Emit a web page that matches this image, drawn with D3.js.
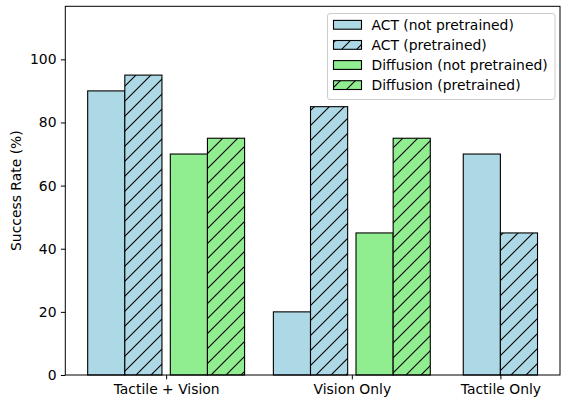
<!DOCTYPE html>
<html><head><meta charset="utf-8">
<script src="https://cdn.jsdelivr.net/npm/d3@7"></script>
<style>body{margin:0;background:#fff}svg{display:block}text{font-family:"DejaVu Sans",sans-serif}</style>
</head><body><svg id="c" width="569" height="406"></svg>
<script>
const categories = ["Tactile + Vision", "Vision Only", "Tactile Only"];
const categoryPositions = [0, 1, 1.8];
const seriesNames = ["ACT (not pretrained)", "ACT (pretrained)", "Diffusion (not pretrained)", "Diffusion (pretrained)"];
const actNotPretrained = [90, 20, 70];
const actPretrained = [95, 85, 45];
const diffNotPretrained = [70, 45, null];
const diffPretrained = [75, 75, null];
const yTicks = [0, 20, 40, 60, 80, 100];
const colors = ["#ADD8E6", "#ADD8E6", "#90EE90", "#90EE90"];
const hatched = [false, true, false, true];

const series = [actNotPretrained, actPretrained, diffNotPretrained, diffPretrained];
const W = 569, H = 406;
const FS = 13.9;
const m = {l: 65.3, r: 560, t: 6.3, b: 375};
const svg = d3.select("#c");
const x = d3.scaleLinear().domain([-0.543, 2.121]).range([m.l, m.r]);
const y = d3.scaleLinear().domain([0, 116.8]).range([m.b, m.t]);
const bw = 0.2, gap = 0.045;

const defs = svg.append("defs");
const s = 15;
["#ADD8E6", "#90EE90"].forEach((c, i) => {
  const p = defs.append("pattern").attr("id", "h" + i).attr("patternUnits", "userSpaceOnUse")
    .attr("width", s).attr("height", s).attr("y", H % s);
  p.append("rect").attr("width", s).attr("height", s).attr("fill", c);
  p.append("path").attr("d", `M0,${s} L${s},0 M${-s/2},${s/2} L${s/2},${-s/2} M${s/2},${s*1.5} L${s*1.5},${s/2}`)
    .attr("stroke", "#000").attr("stroke-width", 1.1);
});
const fillOf = i => hatched[i] ? `url(#h${colors[i] === "#ADD8E6" ? 0 : 1})` : colors[i];

function offsets(n) {
  if (n === 4) return [-(bw * 1.5 + gap / 2), -(bw / 2 + gap / 2), bw / 2 + gap / 2, bw * 1.5 + gap / 2];
  return [-bw / 2, bw / 2];
}
categories.forEach((cat, ci) => {
  const present = series.map((sr, si) => sr[ci] != null ? si : -1).filter(v => v >= 0);
  const off = offsets(present.length);
  present.forEach((si, k) => {
    const cx = categoryPositions[ci] + off[k];
    const v = series[si][ci];
    svg.append("rect")
      .attr("x", x(cx - bw / 2)).attr("width", x(cx + bw / 2) - x(cx - bw / 2))
      .attr("y", y(v)).attr("height", y(0) - y(v))
      .attr("fill", fillOf(si)).attr("stroke", "#000").attr("stroke-width", 1.1);
  });
});

const yAxis = svg.append("g").attr("transform", `translate(${m.l},0)`)
  .call(d3.axisLeft(y).tickValues(yTicks).tickSize(4.4).tickPadding(4.4));
const xAxis = svg.append("g").attr("transform", `translate(0,${m.b})`)
  .call(d3.axisBottom(x).tickValues(categoryPositions).tickFormat((d, i) => categories[i]).tickSize(4.4).tickPadding(4.4));
[yAxis, xAxis].forEach(g => {
  g.select(".domain").remove();
  g.selectAll("text").attr("font-size", FS).attr("fill", "#000").attr("font-family", "DejaVu Sans");
  g.selectAll("line").attr("stroke", "#000").attr("stroke-width", 1);
});
svg.append("rect").attr("x", m.l).attr("y", m.t).attr("width", m.r - m.l).attr("height", m.b - m.t)
  .attr("fill", "none").attr("stroke", "#000").attr("stroke-width", 1);

svg.append("text").attr("transform", `translate(16,${(m.t + m.b) / 2}) rotate(-90)`)
  .attr("text-anchor", "middle").attr("dy", "0.35em").attr("font-size", FS).text("Success Rate (%)");

const lg = svg.append("g");
lg.append("rect").attr("x", 327.5).attr("y", 13.5).attr("width", 227.5).attr("height", 86).attr("rx", 2.5)
  .attr("fill", "#fff").attr("fill-opacity", 0.8).attr("stroke", "#ccc");
seriesNames.forEach((n, i) => {
  const cy = 24.8 + i * 20.1;
  lg.append("rect").attr("x", 333.5).attr("y", cy - 4.4).attr("width", 28).attr("height", 8.8)
    .attr("fill", fillOf(i)).attr("stroke", "#000").attr("stroke-width", 1.1);
  lg.append("text").attr("x", 371.5).attr("y", cy).attr("dy", "0.35em").attr("font-size", FS).text(n);
});
</script></body></html>
